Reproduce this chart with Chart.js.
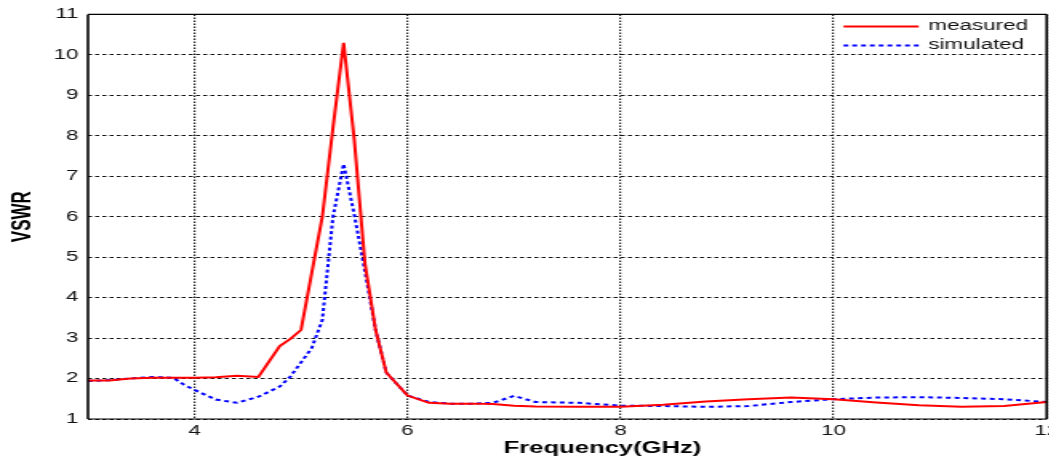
<!DOCTYPE html>
<html>
<head>
<meta charset="utf-8">
<script src="https://cdn.jsdelivr.net/npm/chart.js@4.4.1/dist/chart.umd.min.js"></script>
<style>
  html, body { margin: 0; padding: 0; background: #fff; overflow: hidden; }
  /* the reference picture is stretched sideways, so the canvas is too */
  #wrap { position: absolute; left: 0; top: 0; transform: scaleX(1.6); transform-origin: 0 0; }
</style>
</head>
<body>
<div id="wrap"><canvas id="grafico-vswr" width="666" height="459"></canvas></div>
<script>
//-------------------------- dados --------------------------
const frequencias = [3.0, 3.2, 3.4, 3.6, 3.8, 3.9, 4.0, 4.2, 4.4, 4.6, 4.8, 4.9, 5.0, 5.1, 5.2, 5.3, 5.4, 5.5, 5.6, 5.7, 5.8, 6.0, 6.2, 6.4, 6.6, 6.8, 7.0, 7.2, 7.6, 8.0, 8.4, 8.8, 9.2, 9.6, 10.0, 10.4, 10.8, 11.2, 11.6, 12.0];
const medido = [1.95, 1.95, 2.0, 2.02, 2.02, 2.02, 2.02, 2.03, 2.07, 2.04, 2.8, 2.98, 3.2, 4.6, 6.0, 8.2, 10.3, 7.9, 4.85, 3.2, 2.15, 1.58, 1.4, 1.38, 1.38, 1.37, 1.33, 1.31, 1.3, 1.3, 1.35, 1.43, 1.49, 1.53, 1.49, 1.41, 1.34, 1.3, 1.32, 1.42];
const simulado = [1.94, 1.96, 2.0, 2.04, 2.02, 1.85, 1.72, 1.48, 1.4, 1.55, 1.8, 2.05, 2.4, 2.75, 3.45, 6.0, 7.3, 6.05, 4.65, 3.2, 2.15, 1.58, 1.42, 1.38, 1.38, 1.4, 1.57, 1.42, 1.4, 1.33, 1.32, 1.3, 1.32, 1.42, 1.49, 1.53, 1.54, 1.52, 1.49, 1.42];
const ticksX = [4, 6, 8, 10, 12];
const nomes = ["measured", "simulated"];

//-------------------------- plugins --------------------------
const moldura = {
    id: "moldura",
    afterDatasetsDraw(chart) {
        const { ctx, chartArea: a } = chart;
        ctx.save();
        ctx.strokeStyle = "#000";
        ctx.lineWidth = 1.2;
        ctx.beginPath();
        ctx.moveTo(a.left, a.top);
        ctx.lineTo(a.right, a.top);
        ctx.moveTo(a.left, a.bottom);
        ctx.lineTo(a.right, a.bottom);
        ctx.stroke();
        ctx.lineWidth = 1.6;
        ctx.beginPath();
        ctx.moveTo(a.left, a.top);
        ctx.lineTo(a.left, a.bottom);
        ctx.moveTo(a.right, a.top);
        ctx.lineTo(a.right, a.bottom);
        ctx.stroke();
        ctx.restore();
    },
};

const legendaETitulo = {
    id: "legendaETitulo",
    afterDraw(chart) {
        const { ctx, chartArea: a } = chart;
        ctx.save();
        ctx.font = "14px 'Liberation Sans', Arial, sans-serif";
        ctx.textBaseline = "middle";
        chart.data.datasets.forEach((ds, i) => {
            const y = a.top + 12 + i * 19;
            ctx.strokeStyle = ds.borderColor;
            ctx.lineWidth = ds.borderWidth;
            ctx.setLineDash(ds.borderDash || []);
            ctx.beginPath();
            ctx.moveTo(a.right - 127, y);
            ctx.lineTo(a.right - 80, y);
            ctx.stroke();
            ctx.setLineDash([]);
            ctx.fillStyle = "#111";
            ctx.fillText(ds.label, a.right - 74, y);
        });

        ctx.font = "bold 16px 'Liberation Sans', Arial, sans-serif";
        ctx.textAlign = "center";
        ctx.fillStyle = "#000";
        ctx.fillText("Frequency(GHz)", (a.left + a.right) / 2 + 22, 449);
        ctx.restore();
    },
};

//-------------------------- grafico --------------------------
Chart.defaults.font.family = "'Liberation Sans', Arial, sans-serif";

const ctx = document.getElementById("grafico-vswr").getContext("2d");
new Chart(ctx, {
    type: "line",
    data: {
        datasets: [
            {
                label: nomes[0],
                data: frequencias.map((f, i) => ({ x: f, y: medido[i] })),
                borderColor: "#ff0000",
                borderWidth: 2,
                pointRadius: 0,
                tension: 0,
            },
            {
                label: nomes[1],
                data: frequencias.map((f, i) => ({ x: f, y: simulado[i] })),
                borderColor: "#0000ff",
                borderWidth: 2,
                borderDash: [3, 2.5],
                pointRadius: 0,
                tension: 0,
            },
        ],
    },
    options: {
        responsive: false,
        animation: false,
        layout: { padding: { top: 13, left: 0, right: 0, bottom: 0 } },
        plugins: {
            legend: { display: false },
            tooltip: { enabled: false },
        },
        scales: {
            x: {
                type: "linear",
                min: 3,
                max: 12,
                afterBuildTicks: (s) => {
                    s.ticks = ticksX.map((v) => ({ value: v }));
                },
                afterFit: (s) => {
                    s.height = 40;
                },
                ticks: {
                    font: { size: 14 },
                    color: "#111",
                    padding: 4,
                    maxRotation: 0,
                    autoSkip: false,
                },
                grid: { color: "#222", lineWidth: 1.2, drawTicks: false },
                border: { display: false, dash: [1.5, 1.5] },
            },
            y: {
                min: 1,
                max: 11,
                afterFit: (s) => {
                    s.width = 55;
                },
                ticks: {
                    stepSize: 1,
                    font: { size: 14 },
                    color: "#111",
                    padding: 6,
                },
                grid: { color: "#111", lineWidth: 1, drawTicks: false },
                border: { display: false, dash: [2.5, 2] },
                title: {
                    display: true,
                    text: "VSWR",
                    color: "#000",
                    font: { size: 17, weight: "bold" },
                    padding: { top: 4, bottom: 0 },
                },
            },
        },
    },
    plugins: [moldura, legendaETitulo],
});
</script>
</body>
</html>
